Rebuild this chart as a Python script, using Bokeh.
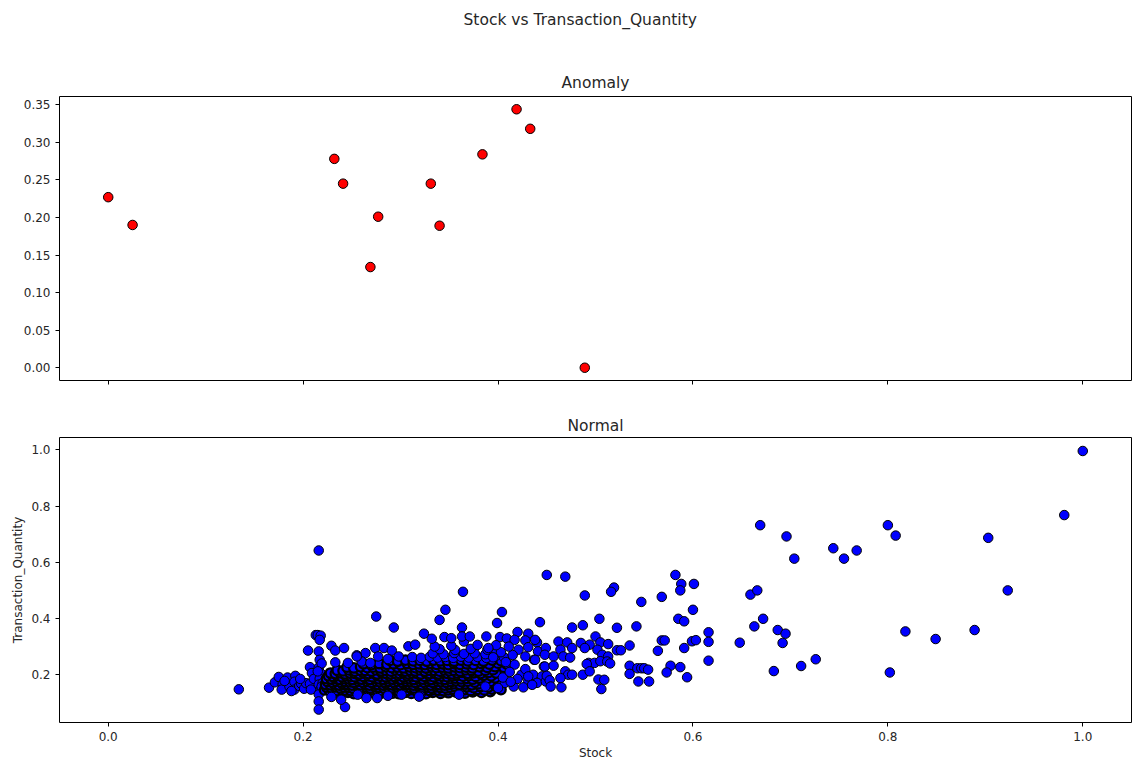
from bokeh.plotting import figure
from bokeh.layouts import column
from bokeh.models import Range1d, FixedTicker, Title, PrintfTickFormatter
from bokeh.embed import file_html
from bokeh.resources import INLINE

# ---------------- data ----------------
anomaly_stock = [0.000, 0.025, 0.232, 0.241, 0.277, 0.269, 0.331, 0.340, 0.384, 0.419, 0.433, 0.489]
anomaly_qty = [0.227, 0.190, 0.278, 0.245, 0.201, 0.134, 0.245, 0.189, 0.284, 0.344, 0.318, 0.000]

x_ticks = [0.0, 0.2, 0.4, 0.6, 0.8, 1.0]
anomaly_y_ticks = [0.00, 0.05, 0.10, 0.15, 0.20, 0.25, 0.30, 0.35]
normal_y_ticks = [0.2, 0.4, 0.6, 0.8, 1.0]

# normal points: left tail and the column near Stock = 0.216
normal_left = [
    (0.134, 0.148), (0.165, 0.154), (0.171, 0.173), (0.175, 0.192), (0.179, 0.166), (0.178, 0.147),
    (0.184, 0.190), (0.186, 0.158), (0.192, 0.196), (0.191, 0.175), (0.191, 0.147), (0.196, 0.160),
    (0.198, 0.168), (0.201, 0.150), (0.203, 0.170), (0.207, 0.168), (0.208, 0.147), (0.207, 0.227),
    (0.209, 0.206), (0.205, 0.286), (0.213, 0.341), (0.211, 0.185), (0.181, 0.178), (0.188, 0.142),
    (0.197, 0.185),
    (0.216, 0.642), (0.215, 0.341), (0.218, 0.339), (0.217, 0.324), (0.216, 0.283), (0.217, 0.253),
    (0.216, 0.226), (0.218, 0.205), (0.217, 0.185), (0.216, 0.165), (0.218, 0.148), (0.216, 0.130),
    (0.216, 0.105), (0.216, 0.076), (0.219, 0.240), (0.215, 0.212), (0.220, 0.170), (0.219, 0.158),
]

# dense (over-plotted, nearly black) core of normal points
normal_core_dense = [
    (0.231, 0.136), (0.238, 0.134), (0.246, 0.137), (0.252, 0.133), (0.259, 0.136), (0.266, 0.134),
    (0.272, 0.137), (0.279, 0.133), (0.285, 0.136), (0.292, 0.135), (0.298, 0.133), (0.305, 0.137),
    (0.311, 0.134), (0.318, 0.136), (0.326, 0.133), (0.333, 0.137), (0.341, 0.134), (0.349, 0.136),
    (0.357, 0.138), (0.366, 0.135), (0.374, 0.139), (0.383, 0.137), (0.392, 0.140),

    (0.222, 0.146), (0.227, 0.144), (0.231, 0.147), (0.235, 0.143), (0.240, 0.146), (0.244, 0.145),
    (0.249, 0.143), (0.253, 0.147), (0.258, 0.144), (0.262, 0.146), (0.267, 0.143), (0.271, 0.147),
    (0.276, 0.145), (0.280, 0.143), (0.285, 0.146), (0.289, 0.144), (0.294, 0.147), (0.298, 0.143),
    (0.303, 0.146), (0.307, 0.144), (0.312, 0.147), (0.316, 0.145), (0.321, 0.143), (0.325, 0.146),
    (0.330, 0.144), (0.334, 0.147), (0.339, 0.145), (0.344, 0.143), (0.349, 0.146), (0.354, 0.148),
    (0.360, 0.145), (0.366, 0.147), (0.372, 0.144), (0.379, 0.148), (0.386, 0.146), (0.394, 0.149),
    (0.403, 0.147),

    (0.224, 0.156), (0.229, 0.154), (0.233, 0.157), (0.238, 0.153), (0.242, 0.156), (0.247, 0.155),
    (0.251, 0.153), (0.256, 0.157), (0.260, 0.154), (0.265, 0.156), (0.269, 0.153), (0.274, 0.157),
    (0.278, 0.155), (0.283, 0.153), (0.287, 0.156), (0.292, 0.154), (0.296, 0.157), (0.301, 0.153),
    (0.305, 0.156), (0.310, 0.155), (0.314, 0.153), (0.319, 0.157), (0.323, 0.154), (0.328, 0.156),
    (0.332, 0.153), (0.337, 0.157), (0.341, 0.155), (0.346, 0.153), (0.351, 0.156), (0.356, 0.158),
    (0.362, 0.155), (0.368, 0.157), (0.375, 0.154), (0.382, 0.158), (0.390, 0.156), (0.398, 0.159),

    (0.223, 0.166), (0.228, 0.164), (0.232, 0.167), (0.237, 0.163), (0.241, 0.166), (0.246, 0.165),
    (0.250, 0.163), (0.255, 0.167), (0.259, 0.164), (0.264, 0.166), (0.268, 0.163), (0.273, 0.167),
    (0.277, 0.165), (0.282, 0.163), (0.286, 0.166), (0.291, 0.164), (0.295, 0.167), (0.300, 0.163),
    (0.304, 0.166), (0.309, 0.165), (0.313, 0.163), (0.318, 0.167), (0.322, 0.164), (0.327, 0.166),
    (0.331, 0.163), (0.336, 0.167), (0.340, 0.165), (0.345, 0.163), (0.350, 0.166), (0.355, 0.168),
    (0.361, 0.165), (0.367, 0.167), (0.373, 0.164), (0.380, 0.168), (0.388, 0.166), (0.396, 0.169),

    (0.225, 0.176), (0.230, 0.174), (0.234, 0.177), (0.239, 0.173), (0.243, 0.176), (0.248, 0.175),
    (0.252, 0.173), (0.257, 0.177), (0.261, 0.174), (0.266, 0.176), (0.270, 0.173), (0.275, 0.177),
    (0.279, 0.175), (0.284, 0.173), (0.288, 0.176), (0.293, 0.174), (0.297, 0.177), (0.302, 0.173),
    (0.306, 0.176), (0.311, 0.175), (0.315, 0.173), (0.320, 0.177), (0.324, 0.174), (0.329, 0.176),
    (0.333, 0.173), (0.338, 0.177), (0.342, 0.175), (0.347, 0.173), (0.352, 0.176), (0.357, 0.178),
    (0.363, 0.175), (0.369, 0.177), (0.376, 0.174), (0.384, 0.178), (0.392, 0.176), (0.401, 0.179),

    (0.224, 0.186), (0.229, 0.184), (0.233, 0.187), (0.238, 0.183), (0.242, 0.186), (0.247, 0.185),
    (0.251, 0.183), (0.256, 0.187), (0.260, 0.184), (0.265, 0.186), (0.269, 0.183), (0.274, 0.187),
    (0.278, 0.185), (0.283, 0.183), (0.287, 0.186), (0.292, 0.184), (0.296, 0.187), (0.301, 0.183),
    (0.305, 0.186), (0.310, 0.185), (0.314, 0.183), (0.319, 0.187), (0.323, 0.184), (0.328, 0.186),
    (0.332, 0.183), (0.337, 0.187), (0.341, 0.185), (0.346, 0.183), (0.351, 0.186), (0.356, 0.188),
    (0.362, 0.185), (0.368, 0.187), (0.374, 0.184), (0.381, 0.188), (0.389, 0.186), (0.397, 0.189),

    (0.226, 0.196), (0.231, 0.194), (0.235, 0.197), (0.240, 0.193), (0.244, 0.196), (0.249, 0.195),
    (0.253, 0.193), (0.258, 0.197), (0.262, 0.194), (0.267, 0.196), (0.271, 0.193), (0.276, 0.197),
    (0.280, 0.195), (0.285, 0.193), (0.289, 0.196), (0.294, 0.194), (0.298, 0.197), (0.303, 0.193),
    (0.307, 0.196), (0.312, 0.195), (0.316, 0.193), (0.321, 0.197), (0.325, 0.194), (0.330, 0.196),
    (0.334, 0.193), (0.339, 0.197), (0.343, 0.195), (0.348, 0.193), (0.353, 0.196), (0.358, 0.198),
    (0.364, 0.195), (0.370, 0.197), (0.377, 0.194), (0.385, 0.198), (0.393, 0.196),

    (0.228, 0.206), (0.233, 0.204), (0.238, 0.207), (0.243, 0.203), (0.248, 0.206), (0.253, 0.205),
    (0.258, 0.203), (0.262, 0.207), (0.267, 0.204), (0.272, 0.206), (0.276, 0.203), (0.281, 0.207),
    (0.285, 0.205), (0.290, 0.203), (0.294, 0.206), (0.299, 0.204), (0.303, 0.207), (0.308, 0.203),
    (0.312, 0.206), (0.317, 0.205), (0.321, 0.203), (0.326, 0.207), (0.330, 0.204), (0.335, 0.206),
    (0.339, 0.203), (0.344, 0.207), (0.348, 0.205), (0.353, 0.203), (0.358, 0.206), (0.363, 0.208),
    (0.369, 0.205), (0.375, 0.207), (0.382, 0.204), (0.390, 0.208), (0.398, 0.206),

    (0.235, 0.216), (0.241, 0.214), (0.247, 0.217), (0.253, 0.213), (0.259, 0.216), (0.264, 0.215),
    (0.270, 0.213), (0.275, 0.217), (0.280, 0.214), (0.285, 0.216), (0.290, 0.213), (0.295, 0.217),
    (0.300, 0.215), (0.305, 0.213), (0.310, 0.216), (0.315, 0.214), (0.320, 0.217), (0.325, 0.213),
    (0.330, 0.216), (0.335, 0.215), (0.340, 0.213), (0.345, 0.217), (0.350, 0.214), (0.355, 0.216),
    (0.361, 0.213), (0.367, 0.217), (0.373, 0.215), (0.380, 0.213), (0.387, 0.216), (0.395, 0.218),

    (0.245, 0.227), (0.252, 0.224), (0.259, 0.228), (0.266, 0.225), (0.272, 0.227), (0.279, 0.224),
    (0.285, 0.228), (0.291, 0.225), (0.297, 0.227), (0.303, 0.224), (0.309, 0.228), (0.315, 0.225),
    (0.320, 0.227), (0.326, 0.224), (0.332, 0.228), (0.337, 0.225), (0.343, 0.227), (0.349, 0.224),
    (0.355, 0.228), (0.361, 0.225), (0.367, 0.227), (0.374, 0.224), (0.381, 0.228), (0.389, 0.226),
    (0.397, 0.229), (0.406, 0.226),

    (0.262, 0.239), (0.270, 0.236), (0.278, 0.240), (0.286, 0.237), (0.293, 0.239), (0.300, 0.236),
    (0.307, 0.240), (0.313, 0.237), (0.319, 0.239), (0.325, 0.236), (0.331, 0.240), (0.337, 0.237),
    (0.343, 0.239), (0.349, 0.236), (0.355, 0.240), (0.361, 0.237), (0.368, 0.239), (0.375, 0.236),
    (0.383, 0.240), (0.391, 0.238), (0.400, 0.241), (0.409, 0.238),

    (0.289, 0.251), (0.297, 0.248), (0.305, 0.252), (0.313, 0.249), (0.320, 0.251), (0.327, 0.248),
    (0.334, 0.252), (0.341, 0.249), (0.348, 0.251), (0.355, 0.248), (0.362, 0.252), (0.369, 0.249),
    (0.377, 0.251), (0.385, 0.248), (0.394, 0.252), (0.403, 0.250),
]

# upper part of the core (less over-plotted)
normal_core_top = [
    (0.312, 0.263), (0.321, 0.260), (0.330, 0.264), (0.338, 0.261), (0.346, 0.263), (0.354, 0.260),
    (0.362, 0.264), (0.370, 0.261), (0.379, 0.263), (0.388, 0.260), (0.397, 0.264), (0.406, 0.262),

    (0.333, 0.276), (0.344, 0.273), (0.355, 0.277), (0.365, 0.274), (0.376, 0.276), (0.387, 0.273),
    (0.398, 0.277),
    (0.340, 0.291), (0.356, 0.288), (0.372, 0.292), (0.389, 0.289), (0.352, 0.303), (0.379, 0.306),
    (0.365, 0.318), (0.335, 0.300),
]

# scattered points around the core (Stock 0.22 - 0.45)
normal_fringe = [
    (0.229, 0.303), (0.233, 0.286), (0.242, 0.295), (0.264, 0.277), (0.255, 0.269), (0.274, 0.295),
    (0.283, 0.295), (0.291, 0.286), (0.308, 0.301), (0.315, 0.307), (0.275, 0.407), (0.293, 0.368),
    (0.324, 0.346), (0.277, 0.265), (0.287, 0.256), (0.298, 0.265), (0.233, 0.244), (0.246, 0.242),
    (0.260, 0.247), (0.269, 0.242), (0.255, 0.265),
    (0.364, 0.495), (0.346, 0.431), (0.340, 0.395), (0.404, 0.423), (0.399, 0.384), (0.443, 0.387),
    (0.363, 0.368), (0.332, 0.328), (0.345, 0.334), (0.352, 0.330), (0.363, 0.336), (0.371, 0.336),
    (0.388, 0.336), (0.402, 0.334), (0.409, 0.329), (0.420, 0.352), (0.431, 0.346), (0.440, 0.315),
    (0.428, 0.322), (0.417, 0.324),
    (0.421, 0.289), (0.431, 0.298), (0.441, 0.283), (0.449, 0.295), (0.428, 0.265), (0.437, 0.253),
    (0.447, 0.229), (0.417, 0.236), (0.424, 0.200), (0.436, 0.200), (0.445, 0.194), (0.440, 0.171),
    (0.431, 0.176), (0.426, 0.155), (0.416, 0.158), (0.407, 0.171), (0.400, 0.153), (0.387, 0.158),
    (0.360, 0.129), (0.320, 0.125), (0.449, 0.176),
    (0.405, 0.190), (0.412, 0.210), (0.408, 0.245), (0.415, 0.270), (0.403, 0.280), (0.411, 0.300),
    (0.398, 0.305), (0.390, 0.295), (0.395, 0.262), (0.420, 0.185), (0.428, 0.220), (0.413, 0.175),
    (0.243, 0.085), (0.229, 0.121), (0.239, 0.111), (0.256, 0.129), (0.265, 0.117), (0.276, 0.117),
    (0.287, 0.125), (0.301, 0.129), (0.319, 0.122),
]

# Stock 0.43 - 0.50
normal_mid = [
    (0.450, 0.555), (0.469, 0.549), (0.489, 0.482), (0.476, 0.368), (0.487, 0.376), (0.462, 0.318),
    (0.471, 0.315), (0.485, 0.313), (0.494, 0.307), (0.438, 0.324), (0.464, 0.289), (0.476, 0.295),
    (0.489, 0.295), (0.448, 0.271), (0.457, 0.265), (0.467, 0.265), (0.474, 0.261), (0.493, 0.242),
    (0.499, 0.242), (0.438, 0.253), (0.448, 0.229), (0.457, 0.232), (0.469, 0.212), (0.472, 0.200),
    (0.476, 0.200), (0.450, 0.196), (0.453, 0.180), (0.454, 0.158), (0.464, 0.188), (0.465, 0.155),
    (0.487, 0.200), (0.491, 0.238), (0.494, 0.212), (0.431, 0.194), (0.435, 0.164),
]

# Stock >= 0.5
normal_right = [
    (0.500, 0.336), (0.505, 0.315), (0.502, 0.289), (0.507, 0.271), (0.505, 0.248), (0.503, 0.183),
    (0.513, 0.265), (0.512, 0.247), (0.509, 0.182), (0.506, 0.149),
    (0.519, 0.510), (0.516, 0.495), (0.547, 0.459), (0.504, 0.399), (0.522, 0.367), (0.542, 0.372),
    (0.513, 0.309), (0.535, 0.304), (0.522, 0.287), (0.526, 0.287), (0.515, 0.240), (0.535, 0.232),
    (0.535, 0.203), (0.543, 0.223), (0.547, 0.223), (0.550, 0.223), (0.554, 0.218), (0.544, 0.176),
    (0.555, 0.176), (0.564, 0.285), (0.568, 0.322), (0.571, 0.322), (0.568, 0.477), (0.582, 0.555),
    (0.588, 0.523), (0.587, 0.500), (0.585, 0.399), (0.591, 0.390), (0.599, 0.319), (0.603, 0.323),
    (0.591, 0.295), (0.577, 0.232), (0.587, 0.227), (0.573, 0.208), (0.594, 0.191), (0.600, 0.431),
    (0.601, 0.523), (0.616, 0.351), (0.616, 0.317), (0.616, 0.250), (0.648, 0.314), (0.659, 0.485),
    (0.666, 0.500), (0.672, 0.399), (0.663, 0.372), (0.687, 0.359), (0.695, 0.346), (0.692, 0.313),
    (0.683, 0.213), (0.711, 0.231), (0.726, 0.255), (0.669, 0.732), (0.696, 0.692), (0.704, 0.613),
    (0.744, 0.650), (0.755, 0.613), (0.768, 0.642), (0.800, 0.732), (0.808, 0.695), (0.802, 0.208),
    (0.818, 0.354), (0.849, 0.327), (0.889, 0.359), (0.903, 0.687), (0.923, 0.500), (0.981, 0.768),
    (1.000, 0.996),
]

# ---------------- styling helpers ----------------
FONT = "DejaVu Sans"
TXT = "#262626"
X_RANGE = (-0.05, 1.05)
FRAME_W = 1072


def style_axes(p, yticks, yfmt, xlabels=True):
    p.grid.visible = False
    p.outline_line_color = "black"
    p.outline_line_width = 1
    p.background_fill_color = "white"
    p.border_fill_color = "white"
    for ax in p.axis:
        ax.axis_line_color = None
        ax.major_tick_line_color = "black"
        ax.major_tick_line_width = 1
        ax.major_tick_out = 4
        ax.major_tick_in = 0
        ax.minor_tick_line_color = None
        ax.major_label_text_font = FONT
        ax.major_label_text_font_size = "12px"
        ax.major_label_text_color = TXT
        ax.axis_label_text_font = FONT
        ax.axis_label_text_font_size = "12px"
        ax.axis_label_text_font_style = "normal"
        ax.axis_label_text_color = TXT
    p.yaxis.ticker = FixedTicker(ticks=yticks)
    p.yaxis.formatter = PrintfTickFormatter(format=yfmt)
    p.yaxis.major_label_standoff = 5
    p.xaxis.ticker = FixedTicker(ticks=x_ticks)
    p.xaxis.formatter = PrintfTickFormatter(format="%.1f")
    p.xaxis.major_label_standoff = 5
    if not xlabels:
        # shared x axis: tick marks only, labels not painted
        p.xaxis.major_label_text_color = None


def make_title(text, standoff, align="center", offset=0):
    return Title(text=text, align=align, offset=offset, standoff=standoff,
                 text_font=FONT, text_font_size="15.5px", text_font_style="normal",
                 text_color=TXT)


# ---------------- header holding the figure-level title ----------------
header = figure(title=None, frame_width=FRAME_W, frame_height=9,
                min_border_left=59, min_border_right=2, min_border_top=0, min_border_bottom=0,
                x_axis_location=None, y_axis_location=None,
                toolbar_location=None, output_backend="svg")
header.outline_line_color = None
header.grid.visible = False
header.border_fill_color = "white"
header.add_layout(make_title("Stock vs Transaction_Quantity", 17, align="left", offset=404), "above")

# ---------------- top panel: anomalies ----------------
top = figure(title=None, frame_width=FRAME_W, frame_height=284,
             min_border_left=59, min_border_right=2, min_border_top=50, min_border_bottom=24,
             x_range=Range1d(*X_RANGE), y_range=Range1d(-0.017, 0.361),
             toolbar_location=None, output_backend="svg")
top.add_layout(make_title("Anomaly", 10), "above")
style_axes(top, anomaly_y_ticks, "%.2f", xlabels=False)
top.scatter(anomaly_stock, anomaly_qty, size=9.5, fill_color="#ff0000",
            line_color="black", line_width=1)

# ---------------- bottom panel: normal ----------------
bottom = figure(title=None, frame_width=FRAME_W, frame_height=285,
                min_border_left=59, min_border_right=2, min_border_top=33, min_border_bottom=39,
                x_range=Range1d(*X_RANGE), y_range=Range1d(0.03, 1.044),
                toolbar_location=None, output_backend="svg")
bottom.add_layout(make_title("Normal", 6), "above")
style_axes(bottom, normal_y_ticks, "%.1f")
bottom.xaxis.axis_label = "Stock"
bottom.yaxis.axis_label = "Transaction_Quantity"
bottom.xaxis.axis_label_standoff = 2
bottom.yaxis.axis_label_standoff = 3

groups = [
    (normal_left, 1.0),
    (normal_core_dense, 2.3),
    (normal_core_top, 1.0),
    (normal_fringe, 1.0),
    (normal_mid, 1.0),
    (normal_right, 1.0),
]
for pts, lw in groups:
    bottom.scatter([q[0] for q in pts], [q[1] for q in pts], size=9.5,
                   fill_color="#0000ff", line_color="black", line_width=lw)

layout = column(header, top, bottom, spacing=0)
open("out.html", "w").write(file_html(layout, INLINE))
